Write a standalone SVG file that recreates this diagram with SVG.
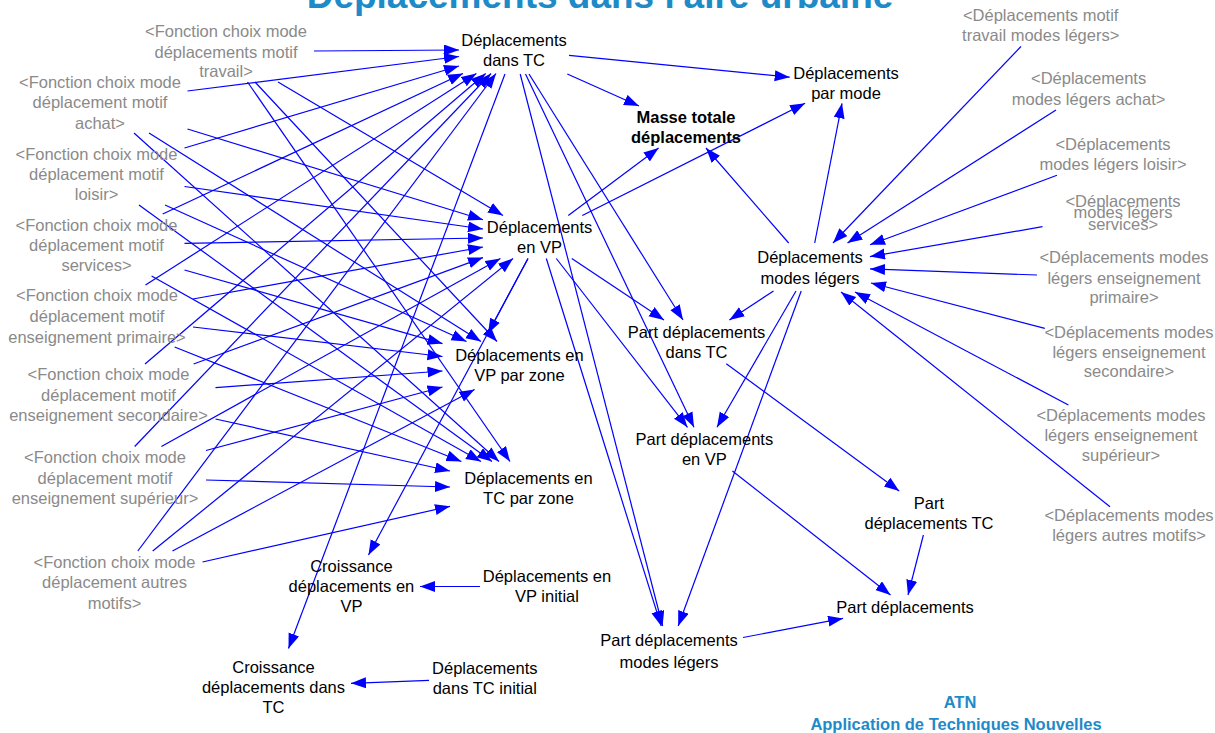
<svg xmlns="http://www.w3.org/2000/svg" width="1215" height="733" viewBox="0 0 1215 733">
<style>
text{font-family:"Liberation Sans",Arial,sans-serif;font-size:16.5px;text-anchor:middle;fill:#000}
.g text{fill:#8a8a8a}
.bd text{font-weight:bold}
.title{font-size:37px;font-weight:bold;fill:#1E8AC8}
.atn text{font-weight:bold;fill:#1E8AC8}
#connectors line{stroke:#0000FF;stroke-width:1.2;fill:none;marker-end:url(#ah)}
</style>
<defs>
<marker id="ah" markerUnits="userSpaceOnUse" markerWidth="16" markerHeight="12" refX="15" refY="5.5" orient="auto">
<path d="M0,0 L15,5.5 L0,11 Z" fill="#0000FF"/>
</marker>
</defs>
<rect width="1215" height="733" fill="#fff"/>
<text class="title" x="600" y="8">Déplacements dans l'aire urbaine</text>

<g id="connectors">
<line x1="314" y1="51" x2="459" y2="50"/>
<line x1="278" y1="82" x2="503" y2="215.5"/>
<line x1="255" y1="82" x2="497" y2="341.5"/>
<line x1="247.5" y1="82" x2="510" y2="461.5"/>
<line x1="187.5" y1="91" x2="459" y2="56.5"/>
<line x1="187.5" y1="129" x2="483" y2="219.7"/>
<line x1="149" y1="133" x2="481" y2="341.5"/>
<line x1="134" y1="133" x2="499" y2="461.5"/>
<line x1="184.5" y1="148" x2="459" y2="66"/>
<line x1="184.5" y1="186.5" x2="483" y2="229"/>
<line x1="165" y1="205" x2="466.5" y2="341.5"/>
<line x1="139" y1="205" x2="492" y2="461.5"/>
<line x1="162.7" y1="214" x2="463" y2="73.5"/>
<line x1="184.5" y1="243.4" x2="483" y2="238"/>
<line x1="184.5" y1="270" x2="442.5" y2="343.6"/>
<line x1="151.6" y1="276" x2="481" y2="461.5"/>
<line x1="145.5" y1="285" x2="476.4" y2="73.5"/>
<line x1="193" y1="299" x2="483" y2="247"/>
<line x1="193" y1="327" x2="442.5" y2="356.5"/>
<line x1="174.6" y1="347" x2="461.4" y2="461.5"/>
<line x1="145" y1="364" x2="485.7" y2="73.5"/>
<line x1="193.6" y1="364" x2="483" y2="257.6"/>
<line x1="215.5" y1="387.6" x2="442.5" y2="371"/>
<line x1="215.5" y1="419" x2="450" y2="471"/>
<line x1="134.7" y1="446.5" x2="491" y2="73.5"/>
<line x1="161.4" y1="446.5" x2="500.4" y2="258.5"/>
<line x1="206" y1="450.5" x2="442.5" y2="387"/>
<line x1="206" y1="480" x2="450" y2="487"/>
<line x1="137.8" y1="551" x2="496" y2="73.5"/>
<line x1="152.7" y1="551" x2="513" y2="258.5"/>
<line x1="172.5" y1="551" x2="474.6" y2="389.5"/>
<line x1="202.5" y1="562" x2="450" y2="506.3"/>
<line x1="569" y1="55.4" x2="789.7" y2="77.2"/>
<line x1="567.3" y1="74" x2="639" y2="106"/>
<line x1="568.3" y1="215.5" x2="658.6" y2="148"/>
<line x1="582.3" y1="215.5" x2="805.1" y2="103.3"/>
<line x1="788.7" y1="243" x2="706" y2="148"/>
<line x1="814.7" y1="243" x2="842" y2="103.3"/>
<line x1="571.8" y1="258.5" x2="664" y2="320"/>
<line x1="529" y1="74" x2="683" y2="320"/>
<line x1="773.5" y1="291" x2="729.4" y2="320"/>
<line x1="556.3" y1="258.5" x2="687.5" y2="427.3"/>
<line x1="525.5" y1="74" x2="694" y2="427.3"/>
<line x1="796" y1="291" x2="717" y2="427.3"/>
<line x1="520.2" y1="74" x2="662.6" y2="626"/>
<line x1="546.3" y1="258.5" x2="661.2" y2="626"/>
<line x1="801.2" y1="291" x2="678.2" y2="626"/>
<line x1="726.3" y1="363.7" x2="899.2" y2="491"/>
<line x1="732.4" y1="471" x2="890.5" y2="595"/>
<line x1="923.4" y1="535" x2="908" y2="595"/>
<line x1="743" y1="637.5" x2="843" y2="618.4"/>
<line x1="480" y1="586.5" x2="420" y2="586.5"/>
<line x1="429" y1="680.3" x2="351" y2="683.3"/>
<line x1="505" y1="74" x2="288.5" y2="648.5"/>
<line x1="528" y1="258.5" x2="368.5" y2="555"/>
<line x1="528" y1="258.5" x2="488" y2="333.5"/>
<line x1="1021" y1="46.5" x2="833" y2="243"/>
<line x1="1056" y1="110" x2="847.5" y2="243"/>
<line x1="1057" y1="175.3" x2="870" y2="244.7"/>
<line x1="1042.5" y1="226.7" x2="870" y2="256.6"/>
<line x1="1037" y1="275" x2="870" y2="268.9"/>
<line x1="1044.8" y1="328.3" x2="871" y2="283"/>
<line x1="1068.4" y1="405" x2="855" y2="292"/>
<line x1="1110" y1="506.7" x2="841" y2="292"/>
</g>

<g id="fonction-travail" class="g"><text x="226" y="36.5">&lt;Fonction choix mode</text><text x="226" y="57.5">déplacements motif</text><text x="226" y="77">travail&gt;</text></g>
<g id="fonction-achat" class="g"><text x="100" y="87.5">&lt;Fonction choix mode</text><text x="100" y="107.5">déplacement motif</text><text x="100" y="128.5">achat&gt;</text></g>
<g id="fonction-loisir" class="g"><text x="96.5" y="160">&lt;Fonction choix mode</text><text x="96.5" y="180">déplacement motif</text><text x="96.5" y="200">loisir&gt;</text></g>
<g id="fonction-services" class="g"><text x="96.5" y="231">&lt;Fonction choix mode</text><text x="96.5" y="251">déplacement motif</text><text x="96.5" y="271">services&gt;</text></g>
<g id="fonction-primaire" class="g"><text x="97" y="301">&lt;Fonction choix mode</text><text x="97" y="322">déplacement motif</text><text x="97" y="342.5">enseignement primaire&gt;</text></g>
<g id="fonction-secondaire" class="g"><text x="108.5" y="380">&lt;Fonction choix mode</text><text x="108.5" y="401">déplacement motif</text><text x="108.5" y="421">enseignement secondaire&gt;</text></g>
<g id="fonction-superieur" class="g"><text x="105" y="463">&lt;Fonction choix mode</text><text x="105" y="483.5">déplacement motif</text><text x="105" y="504">enseignement supérieur&gt;</text></g>
<g id="fonction-autres" class="g"><text x="114.5" y="567.5">&lt;Fonction choix mode</text><text x="114.5" y="588">déplacement autres</text><text x="114.5" y="608.5">motifs&gt;</text></g>

<g id="dep-dans-tc"><text x="514" y="46">Déplacements</text><text x="514" y="66">dans TC</text></g>
<g id="dep-par-mode"><text x="846" y="78.5">Déplacements</text><text x="846" y="98.5">par mode</text></g>
<g id="masse-totale" class="bd"><text x="686" y="122.5">Masse totale</text><text x="686" y="142.5">déplacements</text></g>
<g id="dep-en-vp"><text x="539.6" y="232.5">Déplacements</text><text x="539.6" y="253">en VP</text></g>
<g id="dep-modes-legers"><text x="810" y="262.5">Déplacements</text><text x="810" y="283.5">modes légers</text></g>
<g id="part-dep-dans-tc"><text x="696.5" y="337.5">Part déplacements</text><text x="696.5" y="357.5">dans TC</text></g>
<g id="dep-vp-zone"><text x="519.4" y="360.5">Déplacements en</text><text x="519.4" y="381">VP par zone</text></g>
<g id="part-dep-en-vp"><text x="704.4" y="445">Part déplacements</text><text x="704.4" y="465">en VP</text></g>
<g id="dep-tc-zone"><text x="528.5" y="484.3">Déplacements en</text><text x="528.5" y="504">TC par zone</text></g>
<g id="part-dep-tc"><text x="929" y="508.5">Part</text><text x="929" y="529">déplacements TC</text></g>
<g id="croissance-vp"><text x="351.4" y="571.5">Croissance</text><text x="351.4" y="591.5">déplacements en</text><text x="351.4" y="611.5">VP</text></g>
<g id="dep-vp-initial"><text x="547" y="581.5">Déplacements en</text><text x="547" y="601.5">VP initial</text></g>
<g id="part-dep"><text x="905" y="612.5">Part déplacements</text></g>
<g id="part-dep-modes-legers"><text x="669" y="646">Part déplacements</text><text x="669" y="667.5">modes légers</text></g>
<g id="croissance-tc"><text x="273.5" y="672.5">Croissance</text><text x="273.5" y="692.5">déplacements dans</text><text x="273.5" y="712.5">TC</text></g>
<g id="dep-tc-initial"><text x="484.8" y="673.5">Déplacements</text><text x="484.8" y="694">dans TC initial</text></g>

<g id="ml-travail" class="g"><text x="1040.7" y="21">&lt;Déplacements motif</text><text x="1040.7" y="41">travail modes légers&gt;</text></g>
<g id="ml-achat" class="g"><text x="1088.6" y="84">&lt;Déplacements</text><text x="1088.6" y="105">modes légers achat&gt;</text></g>
<g id="ml-loisir" class="g"><text x="1113" y="150">&lt;Déplacements</text><text x="1113" y="170">modes légers loisir&gt;</text></g>
<g id="ml-services" class="g"><text x="1123" y="206.5">&lt;Déplacements</text><text x="1123" y="218">modes légers</text><text x="1123" y="230">services&gt;</text></g>
<g id="ml-primaire" class="g"><text x="1124" y="262.5">&lt;Déplacements modes</text><text x="1124" y="283.5">légers enseignement</text><text x="1124" y="303">primaire&gt;</text></g>
<g id="ml-secondaire" class="g"><text x="1129" y="337.5">&lt;Déplacements modes</text><text x="1129" y="357.5">légers enseignement</text><text x="1129" y="377">secondaire&gt;</text></g>
<g id="ml-superieur" class="g"><text x="1121" y="421">&lt;Déplacements modes</text><text x="1121" y="441">légers enseignement</text><text x="1121" y="461">supérieur&gt;</text></g>
<g id="ml-autres" class="g"><text x="1129" y="521">&lt;Déplacements modes</text><text x="1129" y="541">légers autres motifs&gt;</text></g>

<g id="atn" class="atn"><text x="960" y="708">ATN</text><text x="956" y="730">Application de Techniques Nouvelles</text></g>
</svg>
